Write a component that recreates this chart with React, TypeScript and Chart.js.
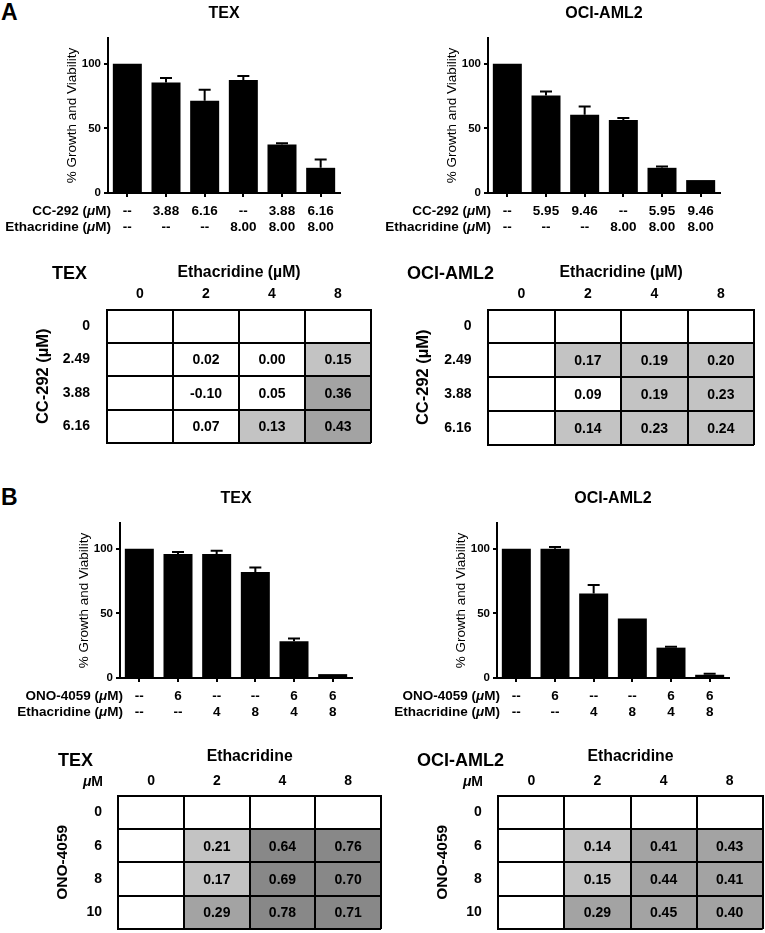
import React, { useEffect, useRef } from 'react';
import { Chart, registerables } from 'chart.js';

Chart.register(...registerables);

const FONT = "'Liberation Sans', Arial, Helvetica, sans-serif";

// ---------- Panel A: bar charts ----------
const A_TEX_VALUES = [100, 85.5, 71.5, 87.5, 37.5, 19.5];
const A_TEX_ERRORS = [0, 3.5, 8.5, 3, 1, 6.5];
const A_OCI_VALUES = [100, 75.5, 60.5, 56.5, 19.5, 10];
const A_OCI_ERRORS = [0, 3, 6.5, 1.5, 1, 0];
const A_TEX_CC292 = ['--', '3.88', '6.16', '--', '3.88', '6.16'];
const A_OCI_CC292 = ['--', '5.95', '9.46', '--', '5.95', '9.46'];
const A_ETHACRIDINE = ['--', '--', '--', '8.00', '8.00', '8.00'];

// ---------- Panel B: bar charts ----------
const B_TEX_VALUES = [100, 96, 96, 82, 28.5, 3];
const B_TEX_ERRORS = [0, 1.5, 2.5, 3.5, 2, 0];
const B_OCI_VALUES = [100, 100, 65.5, 46, 23.5, 2.5];
const B_OCI_ERRORS = [0, 1.5, 6.5, 0, 0.7, 0.8];
const B_ONO4059 = ['--', '6', '--', '--', '6', '6'];
const B_ETHACRIDINE = ['--', '--', '4', '8', '4', '8'];

const Y_TICKS = [0, 50, 100];

// ---------- Combination index tables ----------
const ETH_COLS = ['0', '2', '4', '8'];
const CC292_ROWS = ['0', '2.49', '3.88', '6.16'];
const ONO_ROWS = ['0', '6', '8', '10'];
const A_TEX_CI = [
  [null, null, null, null],
  [null, 0.02, 0.0, 0.15],
  [null, -0.1, 0.05, 0.36],
  [null, 0.07, 0.13, 0.43],
];
const A_OCI_CI = [
  [null, null, null, null],
  [null, 0.17, 0.19, 0.2],
  [null, 0.09, 0.19, 0.23],
  [null, 0.14, 0.23, 0.24],
];
const B_TEX_CI = [
  [null, null, null, null],
  [null, 0.21, 0.64, 0.76],
  [null, 0.17, 0.69, 0.7],
  [null, 0.29, 0.78, 0.71],
];
const B_OCI_CI = [
  [null, null, null, null],
  [null, 0.14, 0.41, 0.43],
  [null, 0.15, 0.44, 0.41],
  [null, 0.29, 0.45, 0.4],
];

function shade(v: number | null): string {
  if (v == null) return '#ffffff';
  if (v < 0.1) return '#ffffff';
  if (v < 0.25) return '#c3c3c3';
  if (v < 0.5) return '#a3a3a3';
  return '#888888';
}

const errorBarPlugin = {
  id: 'errorBars',
  afterDatasetsDraw(chart: any) {
    const ctx = chart.ctx;
    const yScale = chart.scales.y;
    chart.data.datasets.forEach((ds: any, di: number) => {
      const meta = chart.getDatasetMeta(di);
      meta.data.forEach((el: any, i: number) => {
        const err = ds.errors ? ds.errors[i] : 0;
        if (!err) return;
        const top = yScale.getPixelForValue(ds.data[i] + err);
        ctx.save();
        ctx.strokeStyle = '#000';
        ctx.lineWidth = 2;
        ctx.beginPath();
        ctx.moveTo(el.x, el.y);
        ctx.lineTo(el.x, top);
        ctx.moveTo(el.x - 6, top);
        ctx.lineTo(el.x + 6, top);
        ctx.stroke();
        ctx.restore();
      });
    });
  },
};

const cellTextPlugin = {
  id: 'cellText',
  afterDatasetsDraw(chart: any) {
    const ctx = chart.ctx;
    chart.data.datasets.forEach((ds: any, di: number) => {
      const meta = chart.getDatasetMeta(di);
      meta.data.forEach((el: any, i: number) => {
        const v = ds.cellValues[i];
        if (v == null) return;
        ctx.save();
        ctx.fillStyle = '#000';
        ctx.font = `bold 14px ${FONT}`;
        ctx.textAlign = 'center';
        ctx.textBaseline = 'middle';
        ctx.fillText(v.toFixed(2), el.x, (el.y + el.base) / 2 + 1);
        ctx.restore();
      });
    });
  },
};

function Txt({ x, y, children, size = 14, bold = true, align = 'left', italic = false }: any) {
  const tx = align === 'left' ? '0' : align === 'right' ? '-100%' : '-50%';
  return (
    <div
      style={{
        position: 'absolute',
        left: x,
        top: y,
        transform: `translate(${tx}, -50%)`,
        fontSize: size,
        fontWeight: bold ? 'bold' : 'normal',
        fontStyle: italic ? 'italic' : 'normal',
        lineHeight: 1,
        whiteSpace: 'nowrap',
        color: '#000',
        fontFamily: FONT,
      }}
    >
      {children}
    </div>
  );
}

function BarPanel({ left, top, title, values, errors, row1, row2, row1Name }: any) {
  const ref = useRef<HTMLCanvasElement>(null);
  useEffect(() => {
    const labels = row1.map((r: string, i: number) => [r, row2[i]]);
    const axisGrid = {
      drawOnChartArea: false,
      drawTicks: true,
      tickLength: 4,
      color: '#000',
      lineWidth: 2,
    };
    const chart = new Chart(ref.current as HTMLCanvasElement, {
      type: 'bar',
      data: {
        labels,
        datasets: [
          {
            data: values,
            errors,
            backgroundColor: '#000',
            borderWidth: 0,
            barPercentage: 0.75,
            categoryPercentage: 1,
          } as any,
        ],
      },
      options: {
        responsive: false,
        animation: false,
        devicePixelRatio: 1,
        layout: { padding: { left: 60, right: 40, top: 0, bottom: 0 } },
        plugins: {
          legend: { display: false },
          tooltip: { enabled: false },
          title: {
            display: true,
            text: title,
            fullSize: false,
            color: '#000',
            font: { family: FONT, size: 16, weight: 'bold' },
            padding: { top: 4.4, bottom: 14.4 },
          },
        },
        scales: {
          x: {
            offset: true,
            grid: { ...axisGrid, offset: false },
            border: { display: true, color: '#000', width: 2 },
            ticks: {
              color: '#000',
              font: { family: FONT, size: 13.5, weight: 'bold', lineHeight: '16px' },
              padding: 6,
              maxRotation: 0,
              autoSkip: false,
            },
            afterFit: (s: any) => {
              s.height = 47;
            },
          },
          y: {
            min: 0,
            max: 120,
            afterBuildTicks: (s: any) => {
              s.ticks = Y_TICKS.map((v) => ({ value: v }));
            },
            grid: axisGrid,
            border: { display: true, color: '#000', width: 2 },
            ticks: {
              color: '#000',
              font: { family: FONT, size: 11.5, weight: 'bold' },
              padding: 3,
            },
            title: {
              display: true,
              text: '% Growth and Viability',
              color: '#000',
              font: { family: FONT, size: 13.5 },
              padding: { top: 4, bottom: 0 },
            },
            afterFit: (s: any) => {
              s.width = 48;
            },
          },
        },
      } as any,
      plugins: [errorBarPlugin],
    });
    return () => chart.destroy();
  }, []);
  return (
    <div style={{ position: 'absolute', left, top, width: 380, height: 240 }}>
      <canvas ref={ref} width={380} height={240} style={{ position: 'absolute', left: 0, top: 0, width: 380, height: 240 }} />
      <Txt x={111} y={211} size={13.5} align="right">
        {row1Name} (<i>μ</i>M)
      </Txt>
      <Txt x={111} y={227} size={13.5} align="right">
        Ethacridine (<i>μ</i>M)
      </Txt>
    </div>
  );
}

function TablePanel({
  left,
  top,
  width,
  height,
  rows,
  cols,
  values,
  xTitle,
  yTitle,
  yTitleSize,
  plotL,
  plotR,
  plotT,
  plotB,
  yTitleX,
  rowLabelRight,
  xTitleY,
  headerY,
}: any) {
  const ref = useRef<HTMLCanvasElement>(null);
  useEffect(() => {
    const xTitleSize = 15.8;
    const tickSize = 14;
    const padLeft = yTitleX - 4 - (yTitleSize * 1.2) / 2;
    const padTop = xTitleY - (xTitleSize * 1.2) / 2;
    const datasets = values.map((rowVals: any[], r: number) => ({
      data: rowVals.map((v) => (v == null ? null : [r, r + 1])),
      cellValues: rowVals,
      backgroundColor: rowVals.map((v) => shade(v)),
      borderWidth: 0,
      barPercentage: 1,
      categoryPercentage: 1,
      grouped: false,
    }));
    const chart = new Chart(ref.current as HTMLCanvasElement, {
      type: 'bar',
      data: { labels: cols, datasets },
      options: {
        responsive: false,
        animation: false,
        devicePixelRatio: 1,
        layout: {
          padding: { left: padLeft, right: width - plotR, top: padTop, bottom: height - plotB },
        },
        plugins: { legend: { display: false }, tooltip: { enabled: false }, title: { display: false } },
        scales: {
          x: {
            position: 'top',
            offset: true,
            grid: { display: true, offset: true, drawTicks: false, color: '#000', lineWidth: 2, z: 1 },
            border: { display: true, color: '#000', width: 2, z: 1 },
            ticks: {
              color: '#000',
              font: { family: FONT, size: tickSize, weight: 'bold' },
              padding: plotT - headerY - (tickSize * 1.2) / 2,
              maxRotation: 0,
            },
            title: {
              display: true,
              text: xTitle,
              color: '#000',
              font: { family: FONT, size: xTitleSize, weight: 'bold' },
              padding: { top: 0, bottom: 0 },
            },
            afterFit: (s: any) => {
              s.height = plotT - padTop;
            },
          },
          y: {
            min: 0,
            max: 4,
            reverse: true,
            weight: 0,
            afterBuildTicks: (s: any) => {
              s.ticks = rows.map((_: any, i: number) => ({ value: i })).concat([{ value: rows.length }]);
            },
            grid: { display: true, drawTicks: false, color: '#000', lineWidth: 2, z: 1 },
            border: { display: true, color: '#000', width: 2, z: 1 },
            ticks: { display: false, padding: 0 },
            afterFit: (s: any) => {
              s.width = 0;
            },
          },
          yl: {
            type: 'category',
            labels: rows,
            position: 'left',
            offset: true,
            weight: 1,
            grid: {
              display: true,
              drawOnChartArea: false,
              drawTicks: true,
              tickLength: plotL - rowLabelRight,
              color: 'rgba(0,0,0,0)',
            },
            border: { display: false },
            ticks: {
              color: '#000',
              font: { family: FONT, size: tickSize, weight: 'bold', lineHeight: '6px' },
              padding: 0,
            },
            title: {
              display: true,
              text: yTitle,
              color: '#000',
              font: { family: FONT, size: yTitleSize, weight: 'bold' },
              padding: { top: 4, bottom: 0 },
            },
            afterFit: (s: any) => {
              s.width = plotL - padLeft;
            },
          },
        },
      } as any,
      plugins: [cellTextPlugin],
    });
    return () => chart.destroy();
  }, []);
  return (
    <canvas
      ref={ref}
      width={width}
      height={height}
      style={{ position: 'absolute', left, top, width, height }}
    />
  );
}

export default function App() {
  return (
    <div
      style={{
        position: 'absolute',
        left: 0,
        top: 0,
        width: 765,
        height: 933,
        background: '#fff',
        fontFamily: FONT,
        overflow: 'hidden',
      }}
    >
      <Txt x={1} y={12} size={23}>A</Txt>
      <Txt x={1} y={497} size={23}>B</Txt>

      <BarPanel left={0} top={0} title="TEX" values={A_TEX_VALUES} errors={A_TEX_ERRORS} row1={A_TEX_CC292} row2={A_ETHACRIDINE} row1Name="CC-292" />
      <BarPanel left={380} top={0} title="OCI-AML2" values={A_OCI_VALUES} errors={A_OCI_ERRORS} row1={A_OCI_CC292} row2={A_ETHACRIDINE} row1Name="CC-292" />

      <TablePanel
        left={0} top={250} width={380} height={200}
        rows={CC292_ROWS} cols={ETH_COLS} values={A_TEX_CI}
        xTitle="Ethacridine (µM)" yTitle="CC-292 (µM)" yTitleSize={16.5}
        plotL={107} plotR={371} plotT={59.5} plotB={193}
        yTitleX={43} rowLabelRight={90} xTitleY={23} headerY={44}
      />
      <TablePanel
        left={380} top={250} width={385} height={200}
        rows={CC292_ROWS} cols={ETH_COLS} values={A_OCI_CI}
        xTitle="Ethacridine (µM)" yTitle="CC-292 (µM)" yTitleSize={16.5}
        plotL={108.3} plotR={374} plotT={59.5} plotB={195}
        yTitleX={43} rowLabelRight={91.5} xTitleY={23} headerY={44}
      />
      <Txt x={52} y={273} size={18}>TEX</Txt>
      <Txt x={407} y={273} size={18}>OCI-AML2</Txt>

      <BarPanel left={12} top={485} title="TEX" values={B_TEX_VALUES} errors={B_TEX_ERRORS} row1={B_ONO4059} row2={B_ETHACRIDINE} row1Name="ONO-4059" />
      <BarPanel left={389} top={485} title="OCI-AML2" values={B_OCI_VALUES} errors={B_OCI_ERRORS} row1={B_ONO4059} row2={B_ETHACRIDINE} row1Name="ONO-4059" />

      <TablePanel
        left={0} top={735} width={383} height={198}
        rows={ONO_ROWS} cols={ETH_COLS} values={B_TEX_CI}
        xTitle="Ethacridine" yTitle="ONO-4059" yTitleSize={15.5}
        plotL={118.3} plotR={381} plotT={60.7} plotB={194}
        yTitleX={63} rowLabelRight={102} xTitleY={22} headerY={46}
      />
      <TablePanel
        left={380} top={735} width={385} height={198}
        rows={ONO_ROWS} cols={ETH_COLS} values={B_OCI_CI}
        xTitle="Ethacridine" yTitle="ONO-4059" yTitleSize={15.5}
        plotL={118.3} plotR={382.7} plotT={60.7} plotB={194}
        yTitleX={63} rowLabelRight={101.7} xTitleY={22} headerY={46}
      />
      <Txt x={58} y={760} size={18}>TEX</Txt>
      <Txt x={417} y={760} size={18}>OCI-AML2</Txt>
      <Txt x={103} y={781} size={14} align="right"><i>μ</i>M</Txt>
      <Txt x={483} y={781} size={14} align="right"><i>μ</i>M</Txt>
    </div>
  );
}
